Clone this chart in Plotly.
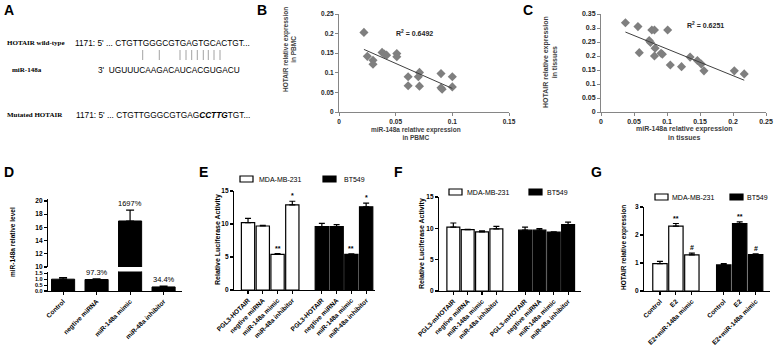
import numpy as np
import plotly.graph_objects as go

W, H = 778, 345

# ---------------- data ----------------
# Panel B (PBMC)
b_mir = [0.022, 0.025, 0.030, 0.030, 0.038, 0.040, 0.042, 0.051, 0.051, 0.061,
         0.061, 0.071, 0.070, 0.071, 0.090, 0.090, 0.091, 0.100, 0.100]
b_hot = [0.203, 0.142, 0.132, 0.122, 0.152, 0.148, 0.145, 0.149, 0.141, 0.090,
         0.067, 0.101, 0.090, 0.066, 0.098, 0.062, 0.058, 0.090, 0.064]
b_r2 = "0.6492"

# Panel C (tissues)
c_mir = [0.037, 0.056, 0.058, 0.073, 0.075, 0.077, 0.081, 0.082, 0.081, 0.091,
         0.093, 0.101, 0.105, 0.122, 0.135, 0.146, 0.152, 0.156, 0.202, 0.217]
c_hot = [0.319, 0.305, 0.212, 0.255, 0.248, 0.293, 0.293, 0.228, 0.200, 0.210,
         0.206, 0.293, 0.168, 0.162, 0.196, 0.184, 0.171, 0.147, 0.147, 0.136]
c_r2 = "0.6251"

# Panel D
d_cats = ["Control", "negtive miRNA", "miR-148a mimic", "miR-48a inhibitor"]
d_vals = [1.00, 0.973, 16.97, 0.344]
d_err = [0.13, 0.05, 1.65, 0.08]
d_pct = ["", "97.3%", "1697%", "34.4%"]

# Panel E
e_cats = ["PGL3-HOTAIR", "negtive miRNA", "miR-148a mimic", "miR-48a inhibitor"]
e_mda = [10.2, 9.7, 5.4, 12.9]
e_mda_err = [0.65, 0.08, 0.12, 0.55]
e_bt = [9.6, 9.6, 5.4, 12.6]
e_bt_err = [0.5, 0.3, 0.06, 0.55]
e_sig = ["", "", "**", "*"]

# Panel F
f_cats = ["PGL3-mHOTAIR", "negtive miRNA", "miR-148a mimic", "miR-48a inhibitor"]
f_mda = [10.2, 9.8, 9.45, 9.9]
f_mda_err = [0.65, 0.05, 0.15, 0.4]
f_bt = [9.7, 9.7, 9.4, 10.6]
f_bt_err = [0.5, 0.25, 0.05, 0.4]

# Panel G
g_cats = ["Control", "E2", "E2+miR-148a mimic"]
g_mda = [0.98, 2.32, 1.29]
g_mda_err = [0.08, 0.09, 0.06]
g_bt = [0.93, 2.41, 1.30]
g_bt_err = [0.05, 0.06, 0.03]
g_sig = ["", "**", "#"]

legend_names = ["MDA-MB-231", "BT549"]

# ---------------- helpers ----------------
def PX(x):
    return x / W

def PY(y):
    return 1 - y / H

FONT = "Liberation Sans, Arial, sans-serif"
SERIF = "Liberation Serif, Times New Roman, serif"

fig = go.Figure()
annotations = []
shapes = []

def ann(text, x, y, size=7, bold=False, angle=0, anchor="center", family=FONT, color="black", vanchor="middle"):
    annotations.append(dict(
        text=text, x=PX(x), y=PY(y), xref="paper", yref="paper", showarrow=False,
        xanchor=anchor, yanchor=vanchor, textangle=angle,
        font=dict(family=family, size=size, color=color, weight="bold" if bold else "normal")))

excel_axis = dict(showline=True, linecolor="#868686", linewidth=1, ticks="outside", ticklen=3,
                  tickcolor="#868686", showgrid=False, zeroline=False, automargin=False)
gp_axis = dict(showline=True, linecolor="black", linewidth=1.2, ticks="outside", ticklen=3,
               tickwidth=1.1, tickcolor="black", showgrid=False, zeroline=False, automargin=False)

# ---------------- Panel A (text) ----------------
ann("A", 2, 10, size=14, bold=True, anchor="left")
ann("HOTAIR wild-type", 5, 43, size=7, bold=True, anchor="left", family=SERIF)
ann("1171: 5' ... CTGTTGGGCGTGAGTGCACTGT...", 73, 43, size=8.3, anchor="left")
ann("miR-148a", 10, 70, size=7, bold=True, anchor="left", family=SERIF)
ann("3'  UGUUUCAAGACAUCACGUGACU", 96, 70, size=8.3, anchor="left")
ann("Mutated HOTAIR", 5, 115, size=7, bold=True, anchor="left", family=SERIF)
ann("1171: 5' ... CTGTTGGGCGTGAG<b><i>CCTTG</i></b>TGT...", 74, 115, size=8.3, anchor="left")
for bx in [142.7, 159.3, 180, 186, 191.7, 197.3, 203.3, 208.3, 214, 220]:
    shapes.append(dict(type="line", xref="paper", yref="paper", x0=PX(bx), x1=PX(bx),
                       y0=PY(50), y1=PY(60), line=dict(color="#8a8a8a", width=0.8)))

# ---------------- Panel B ----------------
fig.add_trace(go.Scatter(x=b_mir, y=b_hot, mode="markers", xaxis="x", yaxis="y",
                         marker=dict(symbol="diamond", size=7, color="#7f7f7f"), showlegend=False))
kb = np.polyfit(b_mir, b_hot, 1)
bx_line = np.array([min(b_mir), max(b_mir)])
fig.add_trace(go.Scatter(x=bx_line, y=np.polyval(kb, bx_line), mode="lines", xaxis="x", yaxis="y",
                         line=dict(color="#404040", width=1), showlegend=False))
ann("B", 255, 10, size=14, bold=True, anchor="left")
ann("R<sup>2</sup> = " + b_r2, 414, 33, size=7, bold=True, color="#262626")
ann("HOTAIR relative expression<br>in PBMC", 290, 50, size=6.5, bold=True, angle=-90, color="#404040")
ann("miR-148a relative expression<br>in PBMC", 416, 133, size=6.5, bold=True, color="#404040")

# ---------------- Panel C ----------------
fig.add_trace(go.Scatter(x=c_mir, y=c_hot, mode="markers", xaxis="x2", yaxis="y2",
                         marker=dict(symbol="diamond", size=7, color="#7f7f7f"), showlegend=False))
kc = np.polyfit(c_mir, c_hot, 1)
cx_line = np.array([min(c_mir), max(c_mir)])
fig.add_trace(go.Scatter(x=cx_line, y=np.polyval(kc, cx_line), mode="lines", xaxis="x2", yaxis="y2",
                         line=dict(color="#404040", width=1), showlegend=False))
ann("C", 521, 10, size=14, bold=True, anchor="left")
ann("R<sup>2</sup> = " + c_r2, 705, 25, size=7, bold=True, color="#262626")
ann("HOTAIR relative expression<br>in tissues", 550, 62, size=7, bold=True, angle=-90, color="#404040")
ann("miR-148a relative expression<br>in tissues", 684, 133, size=7, bold=True, color="#404040")

# ---------------- Panel D (broken axis) ----------------
d_x = list(range(len(d_cats)))
for xa, ya in [("x3", "y3"), ("x4", "y4")]:
    fig.add_trace(go.Bar(x=d_x, y=d_vals, xaxis=xa, yaxis=ya, width=0.69,
                         marker=dict(color="black", line=dict(color="black", width=1)),
                         error_y=dict(type="data", array=d_err, arrayminus=[0] * 4, symmetric=False,
                                      color="black", thickness=1.2, width=4),
                         showlegend=False))
for i, t in enumerate(d_pct):
    if not t:
        continue
    top = d_vals[i] + d_err[i]
    on_upper = top > 10
    annotations.append(dict(text=t, x=d_x[i], y=top, xref="x4" if on_upper else "x3",
                            yref="y4" if on_upper else "y3", showarrow=False, yanchor="bottom",
                            yshift=0, font=dict(family=FONT, size=7.5, color="black")))
ann("D", 2, 172, size=14, bold=True, anchor="left")
ann("miR-148a relative level", 12, 242, size=6.5, bold=True, angle=-90)

# ---------------- Panel E ----------------
mda_pos = [1, 2, 3, 4]
bt_pos = [6, 7, 8, 9]

def grouped(xa, ya, mda, mda_err, bt, bt_err, mpos, bpos, width):
    fig.add_trace(go.Bar(x=mpos, y=mda, xaxis=xa, yaxis=ya, width=width, name=legend_names[0],
                         marker=dict(color="white", line=dict(color="black", width=1.2)),
                         error_y=dict(type="data", array=mda_err, arrayminus=[0] * len(mda), symmetric=False,
                                      color="black", thickness=1.2, width=3),
                         showlegend=False))
    fig.add_trace(go.Bar(x=bpos, y=bt, xaxis=xa, yaxis=ya, width=width, name=legend_names[1],
                         marker=dict(color="black", line=dict(color="black", width=1.2)),
                         error_y=dict(type="data", array=bt_err, arrayminus=[0] * len(bt), symmetric=False,
                                      color="black", thickness=1.2, width=3),
                         showlegend=False))

def sig_marks(xa, ya, vals, errs, pos, sig):
    for i, s in enumerate(sig):
        if s:
            annotations.append(dict(text=s, x=pos[i], y=vals[i] + errs[i], xref=xa, yref=ya,
                                    showarrow=False, yanchor="bottom", yshift=0,
                                    font=dict(family=FONT, size=7, color="black", weight="bold")))

def legend_boxes(wx, tx1, bx, tx2, yc):
    shapes.append(dict(type="rect", xref="paper", yref="paper", x0=PX(wx), x1=PX(wx + 13),
                       y0=PY(yc + 3), y1=PY(yc - 3), line=dict(color="black", width=1.2), fillcolor="white"))
    shapes.append(dict(type="rect", xref="paper", yref="paper", x0=PX(bx), x1=PX(bx + 13),
                       y0=PY(yc + 3), y1=PY(yc - 3), line=dict(color="black", width=1.2), fillcolor="black"))
    ann(legend_names[0], tx1, yc, size=7, anchor="left")
    ann(legend_names[1], tx2, yc, size=7, anchor="left")

grouped("x5", "y5", e_mda, e_mda_err, e_bt, e_bt_err, mda_pos, bt_pos, 0.9)
sig_marks("x5", "y5", e_mda, e_mda_err, mda_pos, e_sig)
sig_marks("x5", "y5", e_bt, e_bt_err, bt_pos, e_sig)
ann("E", 197, 172, size=14, bold=True, anchor="left")
ann("Relative Luciferase Activity", 218, 240, size=7, bold=True, angle=-90)
legend_boxes(240, 257, 323, 342, 179)

# ---------------- Panel F ----------------
grouped("x6", "y6", f_mda, f_mda_err, f_bt, f_bt_err, mda_pos, bt_pos, 0.9)
ann("F", 392, 172, size=14, bold=True, anchor="left")
ann("Relative Luciferase Activity", 422, 244, size=7, bold=True, angle=-90)
legend_boxes(449, 465, 529, 545, 192)

# ---------------- Panel G ----------------
g_mpos = [1, 2, 3]
g_bpos = [5, 6, 7]
grouped("x7", "y7", g_mda, g_mda_err, g_bt, g_bt_err, g_mpos, g_bpos, 0.9)
sig_marks("x7", "y7", g_mda, g_mda_err, g_mpos, g_sig)
sig_marks("x7", "y7", g_bt, g_bt_err, g_bpos, g_sig)
ann("G", 589, 172, size=14, bold=True, anchor="left")
ann("HOTAIR relative expression", 624, 248, size=6.5, bold=True, angle=-90)
legend_boxes(655, 670, 730, 745, 197)

# ---------------- layout ----------------
tick_ex = dict(family=FONT, size=6.5, color="#262626", weight="bold")
tick_ex2 = dict(family=FONT, size=7, color="#262626", weight="bold")
tick_gp = dict(family=FONT, size=6.5, color="black", weight="bold")
tick_gp_small = dict(family=FONT, size=5.5, color="black", weight="bold")

layout = dict(
    width=W, height=H, margin=dict(l=0, r=0, t=0, b=0, autoexpand=False),
    paper_bgcolor="white", plot_bgcolor="white", showlegend=False, bargap=0,
    annotations=annotations, shapes=shapes,
    # B
    xaxis=dict(excel_axis, domain=[PX(339), PX(509)], range=[0, 0.15], tickvals=[0, 0.05, 0.1, 0.15],
               ticktext=["0", "0.05", "0.1", "0.15"], tickfont=tick_ex, anchor="y"),
    yaxis=dict(excel_axis, domain=[PY(112), PY(14)], range=[0, 0.25], tickvals=[0, 0.05, 0.1, 0.15, 0.2, 0.25],
               ticktext=["0", "0.05", "0.1", "0.15", "0.2", "0.25"], tickfont=tick_ex, anchor="x"),
    # C
    xaxis2=dict(excel_axis, domain=[PX(601), PX(766)], range=[0, 0.25],
                tickvals=[0, 0.05, 0.1, 0.15, 0.2, 0.25], ticktext=["0", "0.05", "0.1", "0.15", "0.2", "0.25"],
                tickfont=tick_ex2, anchor="y2"),
    yaxis2=dict(excel_axis, domain=[PY(112), PY(14)], range=[0, 0.35],
                tickvals=[0, 0.05, 0.1, 0.15, 0.2, 0.25, 0.3, 0.35],
                ticktext=["0", "0.05", "0.1", "0.15", "0.2", "0.25", "0.3", "0.35"], tickfont=tick_ex2, anchor="x2"),
    # D lower
    xaxis3=dict(gp_axis, domain=[PX(48), PX(182)], range=[-0.45, 3.55], tickvals=d_x, ticktext=d_cats,
                tickangle=-45, tickfont=tick_gp, anchor="y3"),
    yaxis3=dict(gp_axis, domain=[PY(291), PY(271.5)], range=[0, 1.65], tickvals=[0, 0.5, 1.0, 1.5],
                tickformat=".1f", tickfont=tick_gp_small, anchor="x3"),
    # D upper
    xaxis4=dict(domain=[PX(48), PX(182)], range=[-0.45, 3.55], visible=False, anchor="y4", automargin=False),
    yaxis4=dict(gp_axis, domain=[PY(267), PY(199)], range=[10, 20.3], tickvals=[10, 12, 14, 16, 18, 20],
                tickfont=tick_gp, anchor="x4"),
    # E
    xaxis5=dict(gp_axis, domain=[PX(234), PX(375)], range=[0.05, 9.6], tickvals=mda_pos + bt_pos,
                ticktext=e_cats + e_cats, tickangle=-45, tickfont=tick_gp, anchor="y5"),
    yaxis5=dict(gp_axis, domain=[PY(290), PY(191)], range=[0, 15], tickvals=[0, 5, 10, 15],
                tickfont=tick_gp, anchor="x5"),
    # F
    xaxis6=dict(gp_axis, domain=[PX(439), PX(581)], range=[0, 9.9], tickvals=mda_pos + bt_pos,
                ticktext=f_cats + f_cats, tickangle=-45, tickfont=tick_gp, anchor="y6"),
    yaxis6=dict(gp_axis, domain=[PY(291), PY(197)], range=[0, 15], tickvals=[0, 5, 10, 15],
                tickfont=tick_gp, anchor="x6"),
    # G
    xaxis7=dict(gp_axis, domain=[PX(644), PX(770)], range=[0, 7.9], tickvals=g_mpos + g_bpos,
                ticktext=g_cats + g_cats, tickangle=-45, tickfont=tick_gp, anchor="y7"),
    yaxis7=dict(gp_axis, domain=[PY(291), PY(207)], range=[0, 3], tickvals=[0, 1, 2, 3],
                tickfont=tick_gp, anchor="x7"),
)
fig.update_layout(**layout)
fig.write_html("out.html", config={"displayModeBar": False, "staticPlot": True},
               post_script="document.body.style.margin='0px';document.body.style.overflow='hidden';")
